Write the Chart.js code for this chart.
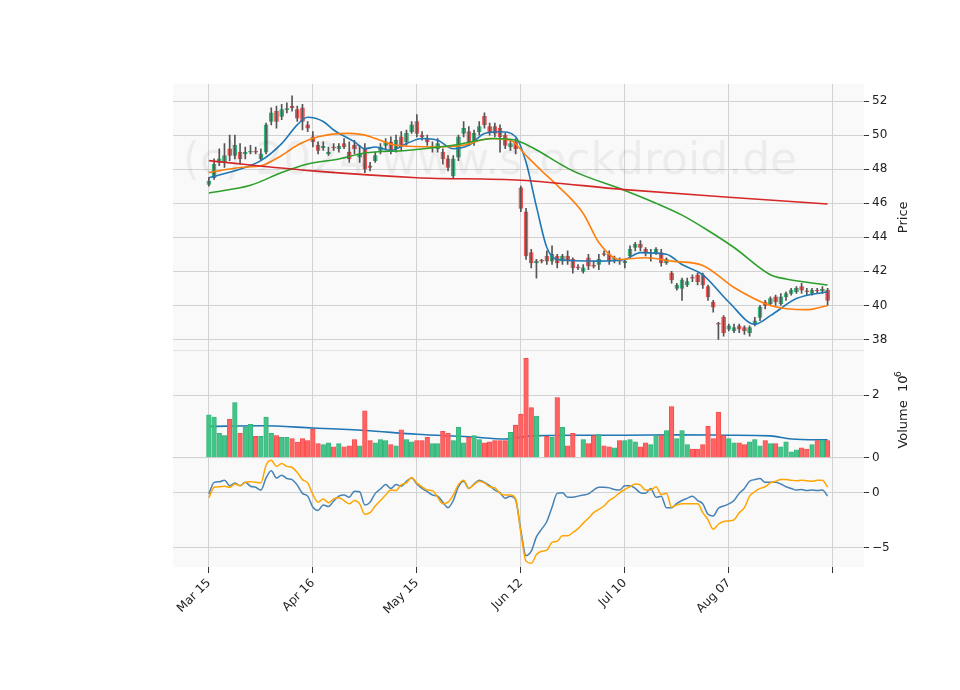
<!DOCTYPE html>
<html>
<head>
<meta charset="utf-8">
<script src="https://cdn.jsdelivr.net/npm/chart.js@4/dist/chart.umd.min.js"></script>
<style>
  html, body { margin: 0; padding: 0; background: #fff; }
  #wrap { width: 960px; height: 690px; }
</style>
</head>
<body>
<div id="wrap"><canvas id="chart" width="960" height="690"></canvas></div>
<script>
// x tick labels (every 20 trading days)
const tickIdx = [0, 20, 40, 60, 80, 100, 120];
const tickLabels = ['Mar 15', 'Apr 16', 'May 15', 'Jun 12', 'Jul 10', 'Aug 07', ''];

// daily candles
const opens = [47.1,47.5,48.4,48.4,49.2,48.8,49.0,48.9,49.0,49.05, 48.6,49.0,50.8,51.4,51.1,51.5,51.7,51.5,51.6,50.6,
  49.9,49.4,49.25,48.9,49.3,49.2,49.5,49.0,49.4,48.7, 49.2,48.2,48.5,49.1,49.4,49.6,49.2,49.9,49.6,50.2,
  50.8,50.0,49.8,49.25,49.2,49.0,48.6,47.6,48.7,50.1, 50.2,49.6,50.2,51.1,50.5,50.5,50.4,50.0,49.3,49.6,
  46.9,45.5,43.1,42.5,42.65,42.9,42.6,42.9,42.6,42.9, 42.7,42.25,42.0,42.8,42.35,42.4,43.05,43.0,42.7,42.65,
  42.5,42.9,43.4,43.6,43.3,42.75,43.1,43.1,42.5,41.9, 41.0,41.0,41.2,41.65,41.8,41.8,41.1,40.2,38.95,39.3,
  38.6,38.5,38.8,38.7,38.4,38.9,39.3,40.2,40.1,40.5, 40.1,40.5,40.7,40.8,41.1,40.85,40.7,40.9,40.85,40.9];
const closes = [47.3,48.3,48.6,48.8,48.8,49.4,48.6,49.0,49.05,49.0, 48.9,50.6,51.3,50.8,51.5,51.55,51.6,51.0,50.8,50.4,
  49.6,49.1,49.35,49.0,49.25,49.35,49.3,48.6,49.2,48.9, 48.0,48.1,48.8,49.3,49.6,49.1,49.7,49.3,50.1,50.6,
  50.1,49.9,49.6,49.35,49.5,48.6,48.1,48.6,49.9,50.4, 49.6,50.1,50.5,50.6,50.2,50.1,49.9,49.4,49.5,49.2,
  45.7,42.9,42.5,42.6,42.6,42.6,43.0,42.5,42.9,42.6, 42.2,42.2,42.2,42.3,42.3,42.7,43.0,42.6,42.8,42.6,
  42.6,43.3,43.6,43.4,43.1,42.8,43.3,42.5,42.7,41.5, 41.2,41.5,41.4,41.6,41.4,41.2,40.5,39.9,38.9,38.4,
  38.8,38.7,38.6,38.5,38.7,39.1,39.9,40.0,40.4,40.2, 40.5,40.7,40.9,41.0,40.9,40.8,40.9,40.85,40.95,40.3];
const highs = [47.5,48.6,49.2,49.5,50.0,50.0,49.5,49.3,49.4,49.3, 49.2,50.7,51.6,51.7,51.8,51.9,52.3,51.7,51.8,50.8,
  50.2,49.6,49.6,49.3,49.5,49.5,49.8,49.6,49.7,49.4, 49.5,48.4,49.0,49.5,49.8,49.9,50.0,50.2,50.3,50.8,
  51.2,50.2,50.0,49.6,49.8,49.2,48.8,48.8,50.0,50.8, 50.5,50.3,50.8,51.3,50.7,50.7,50.6,50.1,49.7,49.8,
  47.0,45.7,43.3,42.7,42.7,43.2,43.5,43.0,43.0,43.2, 42.8,42.4,42.4,43.0,42.6,43.0,43.2,43.2,42.9,42.8,
  42.7,43.5,43.7,43.8,43.4,43.3,43.4,43.3,42.8,42.0, 41.3,41.6,41.6,41.8,41.9,41.9,41.2,40.3,39.0,39.4,
  38.9,38.9,38.9,38.8,38.8,39.3,40.0,40.3,40.5,40.6, 40.7,40.8,41.0,41.1,41.3,41.0,41.0,41.0,41.1,41.0];
const lows = [47.0,47.4,48.2,48.1,48.5,48.6,48.3,48.6,48.9,48.9, 48.5,48.9,50.6,50.4,50.9,51.3,51.4,50.8,50.3,50.2,
  49.3,48.9,49.1,48.8,49.1,49.0,49.2,48.4,48.9,48.4, 47.8,47.9,48.4,48.9,49.2,48.9,49.0,49.1,49.4,50.1,
  49.9,49.7,49.4,49.0,49.0,48.3,47.9,47.5,48.5,49.9, 49.4,49.4,50.0,50.4,50.0,49.9,49.0,49.2,49.1,48.9,
  45.5,42.7,42.2,41.6,42.5,42.4,42.4,42.2,42.4,42.4, 41.9,42.1,41.9,42.1,42.2,42.1,42.9,42.4,42.5,42.4,
  42.2,42.8,43.2,43.2,42.9,42.6,43.0,42.3,42.4,41.3, 40.9,40.3,41.1,41.4,41.2,41.0,40.3,39.6,38.0,38.2,
  38.5,38.4,38.4,38.3,38.2,38.8,39.1,39.8,40.0,40.0, 40.0,40.3,40.6,40.7,40.7,40.6,40.6,40.7,40.7,40.0];

// volume, millions
const volumes = [1.37,1.3,0.78,0.71,1.23,1.76,0.78,0.98,1.07,0.68, 0.68,1.3,0.78,0.71,0.65,0.65,0.61,0.5,0.61,0.55,
  0.91,0.45,0.42,0.48,0.35,0.45,0.35,0.38,0.58,0.38, 1.5,0.55,0.48,0.58,0.55,0.42,0.38,0.89,0.58,0.51,
  0.55,0.55,0.65,0.45,0.45,0.84,0.78,0.55,0.97,0.48, 0.65,0.71,0.58,0.48,0.51,0.55,0.55,0.55,0.81,1.04,
  1.39,3.17,1.6,1.33,0,0.68,0.65,1.92,0.97,0.38, 0.78,0,0.58,0.45,0.71,0.74,0.38,0.35,0.32,0.55,
  0.55,0.58,0.51,0.35,0.48,0.42,0.71,0.71,0.87,1.63, 0.61,0.87,0.42,0.28,0.28,0.42,1.0,0.61,1.46,0.71,
  0.61,0.48,0.48,0.42,0.51,0.58,0.38,0.55,0.45,0.45, 0.35,0.51,0.19,0.25,0.32,0.28,0.42,0.55,0.55,0.55];
const volMaIdx = [0, 10, 20, 30, 40, 50, 57, 62, 70, 80, 90, 100, 108, 112, 119];
const volMa = [1.0, 1.02, 0.95, 0.87, 0.75, 0.67, 0.6, 0.7, 0.72, 0.72, 0.73, 0.72, 0.7, 0.6, 0.57];

// moving averages on price (read at sample days)
const maBlueIdx = [0,5,10,14,17,19,22,24,28,30,32,35,38,41,44,47,50,53,56,59,61,63,65,67,75,80,83,88,91,95,100,105,108,113,119];
const maBlue = [47.5,47.9,48.5,49.5,50.6,51.05,50.8,50.3,49.6,49.2,49.3,49.1,49.5,49.8,49.7,49.2,49.4,50.1,50.2,49.9,48.4,45.8,43.4,42.7,42.6,42.7,43.1,43.0,42.4,41.8,40.2,38.9,39.4,40.4,40.8];
const maOrangeIdx = [0,6,10,14,17,21,27,30,32,36,44,49,54,58,61,64,67,72,75,79,84,89,95,101,108,115,119];
const maOrange = [47.8,48.1,48.2,48.8,49.4,49.9,50.1,50.0,49.8,49.4,49.3,49.4,49.8,49.7,48.8,47.9,47.05,45.4,43.7,42.7,42.8,42.6,42.35,41.05,40.0,39.75,40.0];
const maGreenIdx = [0,8,14,19,25,30,38,47,55,59,62,70,80,86,91,96,101,108,111,119];
const maGreen = [46.6,47.05,47.8,48.3,48.6,48.95,49.1,49.4,49.8,49.7,49.3,47.9,46.75,46.0,45.3,44.4,43.4,41.8,41.55,41.2];
const maRedIdx = [0, 20, 40, 60, 80, 100, 119];
const maRed = [48.5, 47.9, 47.5, 47.35, 46.8, 46.35, 45.95];

// oscillator panel
const oscBlue = [-0.1,0.95,1.0,1.15,0.65,0.9,0.65,0.95,0.6,0.5, 0.25,1.35,2.0,1.35,1.6,1.3,1.2,0.7,-0.05,-0.3,
  -1.3,-1.6,-1.1,-1.25,-0.75,-0.3,-0.2,-0.4,0.15,0.1, -1.1,-0.85,-0.05,0.35,0.75,0.4,0.75,0.6,1.05,1.35,
  0.8,0.4,0.1,-0.2,-0.3,-0.85,-1.35,-0.7,0.55,1.05, 0.4,0.8,1.15,0.95,0.65,0.25,0.0,-0.5,-0.3,-0.65,
  -3.4,-5.7,-5.3,-4.0,-3.3,-2.6,-1.3,-0.05,0.0,-0.4, -0.4,-0.3,-0.2,-0.1,0.25,0.5,0.5,0.45,0.3,0.25,
  0.65,0.65,0.4,0.0,-0.05,0.4,-0.4,-0.3,-1.35,-1.35, -0.95,-0.7,-0.5,-0.3,-0.7,-1.0,-1.95,-2.1,-1.4,-1.2,
  -1.0,-0.7,-0.05,0.4,1.05,1.2,1.3,0.95,0.95,0.95, 0.8,0.55,0.4,0.25,0.3,0.2,0.25,0.2,0.25,-0.3];
const oscOrange = [-0.45,0.5,0.55,0.6,0.5,0.8,0.65,0.95,1.0,0.95, 0.9,2.5,2.95,2.4,2.65,2.4,2.3,1.85,1.2,0.9,
  -0.15,-0.85,-0.55,-0.9,-0.55,-0.45,-0.7,-1.0,-0.7,-1.0, -1.95,-1.8,-1.2,-0.7,-0.2,0.25,0.2,0.75,0.9,1.4,
  0.9,0.55,0.25,0.2,-0.4,-1.0,-0.85,-0.2,0.75,1.15, 0.4,0.75,1.05,0.9,0.55,0.45,-0.05,-0.2,-0.2,-0.55,
  -3.6,-6.2,-6.4,-5.6,-5.3,-5.2,-4.5,-4.4,-3.9,-3.9, -3.6,-3.25,-2.75,-2.3,-1.8,-1.5,-1.2,-0.7,-0.4,0.0,
  0.3,0.55,0.8,0.7,0.25,0.25,0.55,-0.15,-0.05,-1.3, -1.1,-1.0,-1.0,-1.0,-1.0,-1.8,-2.45,-3.3,-2.85,-2.6,
  -2.55,-2.45,-1.8,-1.35,-0.3,0.1,0.4,0.55,0.9,1.05, 1.2,1.2,1.15,1.1,1.15,1.1,1.05,1.15,1.15,0.5];

const UP = '#3cc083', DOWN = '#ff5c5c';
const up = opens.map((o, i) => closes[i] >= o);
const pts = (idx, vals) => vals.map((v, i) => ({ x: idx[i], y: v }));
const allIdx = closes.map((_, i) => i);

function line(label, idx, vals, color, axis, width) {
  return {
    type: 'line', label, data: pts(idx, vals), yAxisID: axis,
    borderColor: color, borderWidth: width || 1.6, pointRadius: 0,
    cubicInterpolationMode: 'monotone', fill: false
  };
}

const panelBg = {
  id: 'panelBg',
  beforeDraw(chart) {
    const { ctx, chartArea: a, scales } = chart;
    ctx.save();
    ctx.fillStyle = '#f9f9f9';
    ctx.fillRect(a.left, a.top, a.right - a.left, a.bottom - a.top);
    ctx.strokeStyle = '#e4e4e4';
    ctx.lineWidth = 1;
    [scales.y.bottom, scales.yv.bottom].forEach(yy => {
      ctx.beginPath(); ctx.moveTo(a.left, yy); ctx.lineTo(a.right, yy); ctx.stroke();
    });
    ctx.restore();
  },
  afterDraw(chart) {
    const { ctx, scales } = chart;
    ctx.save();
    ctx.font = '44px "DejaVu Sans"';
    ctx.fillStyle = 'rgba(0,0,0,0.05)';
    ctx.textAlign = 'center';
    ctx.textBaseline = 'middle';
    ctx.fillText('(c) 2024 www.stockdroid.de', 490, 163);
    // right-side axis titles, read bottom to top
    ctx.fillStyle = '#222';
    ctx.font = '13px "DejaVu Sans"';
    const title = (text, y) => {
      ctx.save(); ctx.translate(904, y); ctx.rotate(-Math.PI / 2);
      ctx.fillText(text, 0, 0); ctx.restore();
    };
    title('Price', (scales.y.top + scales.y.bottom) / 2);
    title('Volume  10', 412);
    ctx.font = '9px "DejaVu Sans"';
    ctx.textAlign = 'left';
    ctx.save(); ctx.translate(899, 377); ctx.rotate(-Math.PI / 2); ctx.fillText('6', 0, 0); ctx.restore();
    ctx.restore();
  }
};

const fitW = s => { s.width = 52; };
const tickFont = { family: 'DejaVu Sans', size: 12 };

new Chart(document.getElementById('chart'), {
  data: {
    datasets: [
      line('MA red', maRedIdx, maRed, '#d62728', 'y'),
      line('MA green', maGreenIdx, maGreen, '#2ca02c', 'y'),
      line('MA orange', maOrangeIdx, maOrange, '#ff7f0e', 'y'),
      line('MA blue', maBlueIdx, maBlue, '#1f77b4', 'y'),
      {
        type: 'bar', label: 'wick', yAxisID: 'y', grouped: false,
        data: allIdx.map(i => ({ x: i, y: [lows[i], highs[i]] })),
        backgroundColor: '#555', barThickness: 1
      },
      {
        type: 'bar', label: 'body', yAxisID: 'y', grouped: false,
        data: allIdx.map(i => ({ x: i, y: [opens[i], closes[i] === opens[i] ? closes[i] + 0.04 : closes[i]] })),
        backgroundColor: up.map(u => u ? UP : DOWN),
        borderColor: up.map(u => u ? '#2aa86c' : '#e84a4a'),
        borderWidth: 0.6, borderSkipped: false, barThickness: 4
      },
      {
        type: 'bar', label: 'volume', yAxisID: 'yv', grouped: false,
        data: allIdx.map(i => ({ x: i, y: volumes[i] })),
        backgroundColor: up.map(u => u ? 'rgba(60,192,131,0.95)' : 'rgba(255,92,92,0.95)'),
        borderColor: up.map(u => u ? '#34b078' : '#f04848'),
        borderWidth: 0.6, barThickness: 4.6
      },
      line('vol MA', volMaIdx, volMa, '#1f77b4', 'yv'),
      line('osc orange', allIdx, oscOrange, '#ffa500', 'ym', 1.5),
      line('osc blue', allIdx, oscBlue, '#4682b4', 'ym', 1.5)
    ]
  },
  options: {
    responsive: false,
    animation: false,
    layout: { padding: { left: 173, top: 84, right: 44, bottom: 72 } },
    plugins: { legend: { display: false }, tooltip: { enabled: false } },
    scales: {
      x: {
        type: 'linear', min: -6.9, max: 126, position: 'bottom', offset: false,
        afterBuildTicks: s => { s.ticks = tickIdx.map(v => ({ value: v })); },
        afterFit: s => { s.height = 51; },
        ticks: {
          autoSkip: false, maxRotation: 45, minRotation: 45, color: '#222', font: tickFont,
          callback: v => tickLabels[tickIdx.indexOf(v)]
        },
        grid: { color: '#d2d2d2', tickLength: 6, tickColor: '#333', offset: false },
        border: { display: false }
      },
      y: {
        position: 'right', stack: 'p', stackWeight: 266, min: 37.35, max: 53.0, afterFit: fitW,
        afterBuildTicks: s => { s.ticks = [38,40,42,44,46,48,50,52].map(v => ({ value: v })); },
        ticks: { color: '#222', font: tickFont },
        grid: { color: '#d2d2d2', tickLength: 5, tickColor: '#333' },
        border: { display: false }
      },
      yv: {
        position: 'right', stack: 'p', stackWeight: 107, min: 0, max: 3.42, afterFit: fitW,
        afterBuildTicks: s => { s.ticks = [0, 2].map(v => ({ value: v })); },
        ticks: { color: '#222', font: tickFont },
        grid: { color: '#d2d2d2', tickLength: 5, tickColor: '#333' },
        border: { display: false }
      },
      ym: {
        position: 'right', stack: 'p', stackWeight: 109, min: -6.73, max: 3.18, afterFit: fitW,
        afterBuildTicks: s => { s.ticks = [-5, 0].map(v => ({ value: v })); },
        ticks: { color: '#222', font: tickFont, callback: v => v < 0 ? '\u2212' + Math.abs(v) : v },
        grid: { color: '#d2d2d2', tickLength: 5, tickColor: '#333' },
        border: { display: false }
      }
    }
  },
  plugins: [panelBg]
});
</script>
</body>
</html>
